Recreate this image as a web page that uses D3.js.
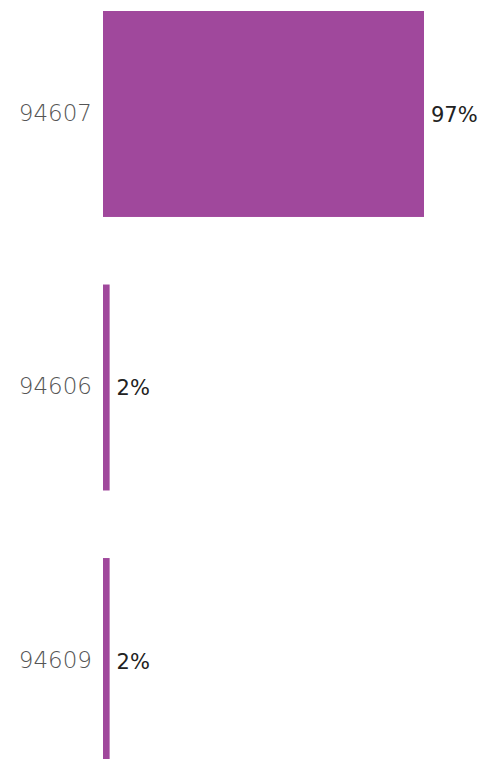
<!DOCTYPE html>
<html>
<head>
<meta charset="UTF-8">
<script src="https://d3js.org/d3.v7.min.js"></script>
<style>
  html, body { margin: 0; padding: 0; background: #fff; overflow: hidden; }
  .tick-label { font-family: "DejaVu Sans", sans-serif; font-weight: 200; font-size: 23px; fill: #555; }
  .value-label { font-family: "DejaVu Sans", sans-serif; font-size: 21px; fill: #222; }
</style>
</head>
<body>
<svg width="495" height="759"></svg>
<script>
const zips = ["94607", "94606", "94609"];
const shares = [97, 2, 2];
const labels = ["97%", "2%", "2%"];

const svg = d3.select("svg");

const y = d3.scaleBand()
    .domain(zips)
    .range([11, 764])
    .paddingInner(0.247)
    .paddingOuter(0);

const x = d3.scaleLinear()
    .domain([0, 97])
    .range([103, 424]);

const rows = zips.map((z, i) => ({ zip: z, value: shares[i], label: labels[i] }));

svg.selectAll("rect")
    .data(rows)
    .enter().append("rect")
    .attr("x", x(0))
    .attr("y", d => y(d.zip))
    .attr("width", d => x(d.value) - x(0))
    .attr("height", y.bandwidth())
    .attr("fill", "#a0489c");

svg.selectAll(".tick-label")
    .data(rows)
    .enter().append("text")
    .attr("class", "tick-label")
    .attr("x", 92)
    .attr("y", d => y(d.zip) + y.bandwidth() / 2)
    .attr("dy", "0.3em")
    .attr("text-anchor", "end")
    .text(d => d.zip);

svg.selectAll(".value-label")
    .data(rows)
    .enter().append("text")
    .attr("class", "value-label")
    .attr("x", d => x(d.value) + 7)
    .attr("y", d => y(d.zip) + y.bandwidth() / 2)
    .attr("dy", "0.38em")
    .text(d => d.label);
</script>
</body>
</html>
